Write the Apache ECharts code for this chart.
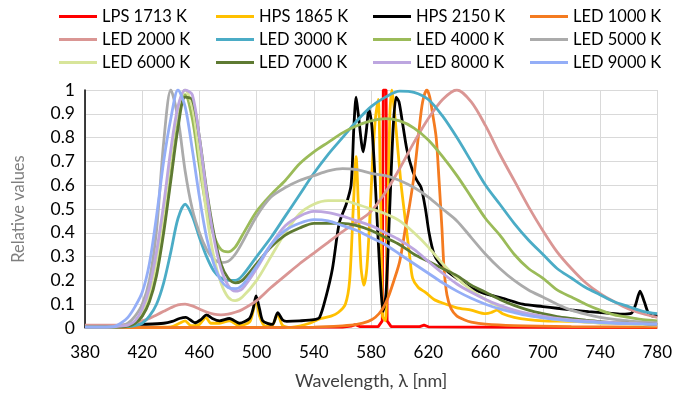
<!DOCTYPE html>
<html>
<head>
<meta charset="utf-8">
<script src="https://cdn.jsdelivr.net/npm/echarts@6/dist/echarts.min.js"></script>
<style>
  html, body { margin: 0; padding: 0; background: #fff; }
  #chart { width: 675px; height: 396px; }
</style>
</head>
<body>
<div id="chart"></div>
<script>
// wavelength grid shared by the white LED spectra
const ledWl = [380, 390, 400, 405, 410, 415, 420, 425, 430, 435, 440, 445, 450, 455, 460, 465, 470, 475, 480, 485, 490,
  500, 510, 520, 530, 540, 550, 560, 570, 580, 590, 600, 610, 620, 630, 640, 650, 660, 670, 680, 690, 700, 710, 720, 730, 740, 750, 760, 770, 780];

const led2000 = [0.012, 0.012, 0.012, 0.013, 0.015, 0.02, 0.03, 0.04, 0.055, 0.07, 0.085, 0.097, 0.1, 0.093, 0.08, 0.067, 0.058, 0.055, 0.058, 0.066, 0.078,
  0.115, 0.17, 0.22, 0.27, 0.315, 0.36, 0.405, 0.445, 0.49, 0.57, 0.67, 0.78, 0.88, 0.96, 1.0, 0.95, 0.85, 0.73, 0.62, 0.51, 0.41, 0.32, 0.25, 0.19, 0.145, 0.11, 0.08, 0.06, 0.045];
const led3000 = [0.004, 0.004, 0.004, 0.005, 0.006, 0.01, 0.02, 0.05, 0.1, 0.19, 0.32, 0.46, 0.52, 0.47, 0.38, 0.3, 0.24, 0.21, 0.2, 0.2, 0.22,
  0.3, 0.38, 0.47, 0.56, 0.65, 0.73, 0.8, 0.87, 0.93, 0.97, 0.995, 0.99, 0.96, 0.89, 0.8, 0.7, 0.6, 0.52, 0.44, 0.37, 0.31, 0.25, 0.21, 0.17, 0.14, 0.11, 0.09, 0.07, 0.06];
const led4000 = [0.004, 0.004, 0.004, 0.006, 0.01, 0.02, 0.05, 0.12, 0.25, 0.45, 0.7, 0.9, 0.98, 0.88, 0.68, 0.5, 0.39, 0.33, 0.32, 0.34, 0.39,
  0.49, 0.56, 0.62, 0.69, 0.74, 0.78, 0.82, 0.85, 0.87, 0.88, 0.87, 0.84, 0.79, 0.72, 0.64, 0.55, 0.46, 0.39, 0.31, 0.25, 0.21, 0.16, 0.13, 0.1, 0.075, 0.055, 0.045, 0.035, 0.03];
const led5000 = [0.005, 0.004, 0.004, 0.007, 0.02, 0.05, 0.1, 0.2, 0.41, 0.78, 1.0, 0.88, 0.66, 0.5, 0.4, 0.33, 0.29, 0.275, 0.28, 0.31, 0.36,
  0.47, 0.55, 0.59, 0.62, 0.64, 0.66, 0.67, 0.665, 0.65, 0.64, 0.62, 0.59, 0.55, 0.5, 0.45, 0.38, 0.31, 0.25, 0.2, 0.16, 0.13, 0.1, 0.075, 0.058, 0.045, 0.036, 0.03, 0.025, 0.022];
const led6000 = [0.003, 0.003, 0.004, 0.006, 0.01, 0.025, 0.06, 0.14, 0.28, 0.48, 0.72, 0.92, 1.0, 0.93, 0.72, 0.48, 0.3, 0.19, 0.13, 0.115, 0.13,
  0.2, 0.3, 0.4, 0.48, 0.52, 0.535, 0.535, 0.52, 0.5, 0.48, 0.45, 0.4, 0.34, 0.27, 0.21, 0.16, 0.12, 0.09, 0.07, 0.055, 0.045, 0.035, 0.03, 0.025, 0.02, 0.018, 0.016, 0.014, 0.012];
const led7000 = [0.004, 0.004, 0.004, 0.005, 0.008, 0.02, 0.05, 0.11, 0.22, 0.4, 0.62, 0.84, 0.97, 0.96, 0.8, 0.58, 0.4, 0.27, 0.21, 0.19, 0.2,
  0.27, 0.34, 0.39, 0.42, 0.44, 0.44, 0.44, 0.43, 0.41, 0.38, 0.35, 0.31, 0.28, 0.25, 0.22, 0.18, 0.15, 0.12, 0.095, 0.075, 0.06, 0.048, 0.04, 0.033, 0.027, 0.023, 0.02, 0.018, 0.015];
const led8000 = [0.004, 0.004, 0.005, 0.008, 0.012, 0.03, 0.08, 0.17, 0.32, 0.52, 0.75, 0.93, 1.0, 0.98, 0.8, 0.57, 0.38, 0.25, 0.18, 0.155, 0.165,
  0.25, 0.35, 0.43, 0.47, 0.49, 0.485, 0.47, 0.45, 0.43, 0.4, 0.37, 0.33, 0.28, 0.23, 0.185, 0.15, 0.12, 0.095, 0.075, 0.06, 0.05, 0.04, 0.034, 0.03, 0.026, 0.023, 0.02, 0.018, 0.016];
const led9000 = [0.004, 0.004, 0.006, 0.02, 0.045, 0.09, 0.15, 0.27, 0.47, 0.7, 0.88, 1.0, 0.93, 0.75, 0.55, 0.38, 0.27, 0.2, 0.17, 0.165, 0.18,
  0.26, 0.35, 0.41, 0.44, 0.455, 0.45, 0.43, 0.41, 0.38, 0.35, 0.31, 0.27, 0.23, 0.19, 0.155, 0.125, 0.1, 0.08, 0.065, 0.052, 0.043, 0.036, 0.03, 0.026, 0.023, 0.02, 0.018, 0.017, 0.016];

// amber LED (LED 1000 K)
const led1000Wl = [380, 540, 560, 570, 578, 583, 588, 592, 596, 600, 604, 607, 610, 613.5, 616, 619, 621, 623, 625.5, 627.5, 629.5, 631, 633, 636, 640, 645, 650, 660, 680, 720, 780];
const led1000 = [0.002, 0.004, 0.009, 0.015, 0.028, 0.045, 0.08, 0.13, 0.2, 0.28, 0.42, 0.52, 0.64, 0.83, 0.95, 1.0, 0.97, 0.9, 0.8, 0.62, 0.42, 0.25, 0.14, 0.08, 0.05, 0.035, 0.025, 0.016, 0.01, 0.006, 0.004];

// low pressure sodium
const lpsWl = [380, 560, 566, 569, 572, 585, 587.8, 588.5, 590.5, 591.2, 594, 614, 617, 620, 700, 780];
const lps = [0.003, 0.004, 0.008, 0.014, 0.006, 0.006, 0.03, 1.0, 1.0, 0.03, 0.006, 0.006, 0.012, 0.005, 0.003, 0.002];

// high pressure sodium 1865 K
const hps1865Wl = [380, 420, 440, 446, 450, 454, 460, 464.5, 468, 474, 481, 488, 495, 497.5, 499.6, 502, 506, 511, 514.7, 518,
  524, 530, 537, 545, 552, 557, 562, 565, 567.5, 569.5, 571.5, 573, 575, 577, 579, 581, 583, 585, 586.5, 588,
  590, 591.5, 593, 594.5, 596, 599, 601, 604, 607, 609, 613, 618, 624, 630, 640, 650, 660, 664, 668, 672,
  680, 690, 700, 720, 740, 760, 780];
const hps1865 = [0.002, 0.003, 0.005, 0.02, 0.03, 0.01, 0.015, 0.045, 0.02, 0.02, 0.03, 0.01, 0.025, 0.07, 0.125, 0.05, 0.008, 0.012, 0.058, 0.012,
  0.003, 0.008, 0.02, 0.04, 0.05, 0.065, 0.1, 0.2, 0.5, 0.72, 0.45, 0.25, 0.18, 0.25, 0.45, 0.7, 0.88, 0.96, 0.6, 0.05,
  0.03, 0.4, 0.88, 1.0, 0.93, 0.73, 0.6, 0.45, 0.3, 0.21, 0.17, 0.15, 0.12, 0.105, 0.085, 0.075, 0.06, 0.065, 0.075, 0.06,
  0.045, 0.035, 0.03, 0.028, 0.022, 0.018, 0.015];

// high pressure sodium 2150 K
const hps2150Wl = [380, 400, 420, 435, 441, 446, 450.5, 455, 457, 461, 465, 469, 474, 481, 488, 495, 497.5, 499.6, 502, 504.3,
  511, 514.7, 518, 521, 530, 540, 544, 548.4, 553, 557.7, 562.6, 566, 568, 569.5, 571, 574.5, 576.5, 578.5, 580.5, 583,
  586, 588.5, 590.5, 593, 595.5, 597.5, 599.5, 602, 605, 609, 612, 615, 618, 620.5, 624, 628, 634, 641, 648, 655,
  662, 672, 686, 700, 710, 720, 732, 745, 755, 762, 765, 768, 771, 774, 777, 780];
const hps2150 = [0.01, 0.01, 0.015, 0.02, 0.028, 0.04, 0.045, 0.028, 0.022, 0.035, 0.055, 0.04, 0.03, 0.04, 0.02, 0.04, 0.08, 0.135, 0.08, 0.03,
  0.015, 0.065, 0.035, 0.028, 0.03, 0.035, 0.045, 0.13, 0.25, 0.44, 0.52, 0.6, 0.85, 0.97, 0.9, 0.74, 0.82, 0.92, 0.85, 0.6,
  0.25, 0.07, 0.15, 0.5, 0.85, 0.97, 0.95, 0.86, 0.75, 0.66, 0.62, 0.59, 0.5, 0.4, 0.31, 0.27, 0.235, 0.205, 0.175, 0.155,
  0.14, 0.125, 0.1, 0.09, 0.083, 0.076, 0.069, 0.063, 0.058, 0.062, 0.1, 0.155, 0.11, 0.06, 0.05, 0.055];

const yTicks = [0, 0.1, 0.2, 0.3, 0.4, 0.5, 0.6, 0.7, 0.8, 0.9, 1];
const xTicks = [380, 420, 460, 500, 540, 580, 620, 660, 700, 740, 780];

const FONT = 'Lato';

function pairs(xs, ys) {
  return xs.map((x, i) => [x, ys[i]]);
}

const seriesDefs = [
  { name: 'LPS 1713 K', color: '#FF0000', wl: lpsWl, v: lps, smooth: false },
  { name: 'HPS 1865 K', color: '#FFC000', wl: hps1865Wl, v: hps1865, smooth: 0.25 },
  { name: 'HPS 2150 K', color: '#000000', wl: hps2150Wl, v: hps2150, smooth: 0.25 },
  { name: 'LED 1000 K', color: '#F47B20', wl: led1000Wl, v: led1000, smooth: 0.3 },
  { name: 'LED 2000 K', color: '#DA9694', wl: ledWl, v: led2000, smooth: 0.3 },
  { name: 'LED 3000 K', color: '#4BACC6', wl: ledWl, v: led3000, smooth: 0.3 },
  { name: 'LED 4000 K', color: '#9BBB59', wl: ledWl, v: led4000, smooth: 0.3 },
  { name: 'LED 5000 K', color: '#ABABAB', wl: ledWl, v: led5000, smooth: 0.3 },
  { name: 'LED 6000 K', color: '#D8E59A', wl: ledWl, v: led6000, smooth: 0.3 },
  { name: 'LED 7000 K', color: '#5E7A32', wl: ledWl, v: led7000, smooth: 0.3 },
  { name: 'LED 8000 K', color: '#BDA6E0', wl: ledWl, v: led8000, smooth: 0.3 },
  { name: 'LED 9000 K', color: '#94AEF7', wl: ledWl, v: led9000, smooth: 0.3 },
];

const chart = echarts.init(document.getElementById('chart'), null, { renderer: 'canvas' });

chart.setOption({
  animation: false,
  textStyle: { fontFamily: FONT },
  color: seriesDefs.map(s => s.color),
  legend: {
    left: 59,
    top: 5,
    padding: 0,
    width: 640,
    itemGap: 0,
    itemWidth: 38,
    itemHeight: 3,
    icon: 'rect',
    textStyle: { fontFamily: FONT, fontSize: 16.5, color: '#000', width: 114, lineHeight: 23 },
    data: seriesDefs.map(s => s.name),
  },
  grid: { left: 85, right: 17, top: 90, bottom: 68, containLabel: false },
  xAxis: {
    type: 'value',
    min: 380,
    max: 780,
    interval: 40,
    name: 'Wavelength, λ [nm]',
    nameLocation: 'middle',
    nameGap: 44,
    nameTextStyle: { fontFamily: FONT, fontSize: 18, color: '#404040' },
    axisLine: { show: true, lineStyle: { color: '#D9D9D9', width: 1 } },
    axisTick: { show: false },
    axisLabel: {
      fontFamily: FONT, fontSize: 17, color: '#000', margin: 16,
      formatter: v => xTicks.includes(v) ? String(v) : ''
    },
    splitLine: { show: true, lineStyle: { color: '#D9D9D9', width: 1 } },
  },
  yAxis: {
    type: 'value',
    min: 0,
    max: 1,
    interval: 0.1,
    name: 'Relative values',
    nameLocation: 'middle',
    nameGap: 58,
    nameTextStyle: { fontFamily: FONT, fontSize: 16.5, color: '#7F7F7F' },
    axisLine: { show: true, lineStyle: { color: '#000', width: 1.5 } },
    axisTick: { show: false },
    axisLabel: {
      fontFamily: FONT, fontSize: 17.5, color: '#000', margin: 10,
      formatter: v => {
        const t = yTicks.find(k => Math.abs(k - v) < 1e-6);
        return t === undefined ? '' : String(t);
      }
    },
    splitLine: { show: true, lineStyle: { color: '#D9D9D9', width: 1 } },
  },
  series: seriesDefs.map(s => ({
    name: s.name,
    type: 'line',
    data: pairs(s.wl, s.v),
    smooth: s.smooth,
    symbol: 'none',
    lineStyle: { color: s.color, width: 2.8 },
    itemStyle: { color: s.color },
  })),
});
</script>
</body>
</html>
